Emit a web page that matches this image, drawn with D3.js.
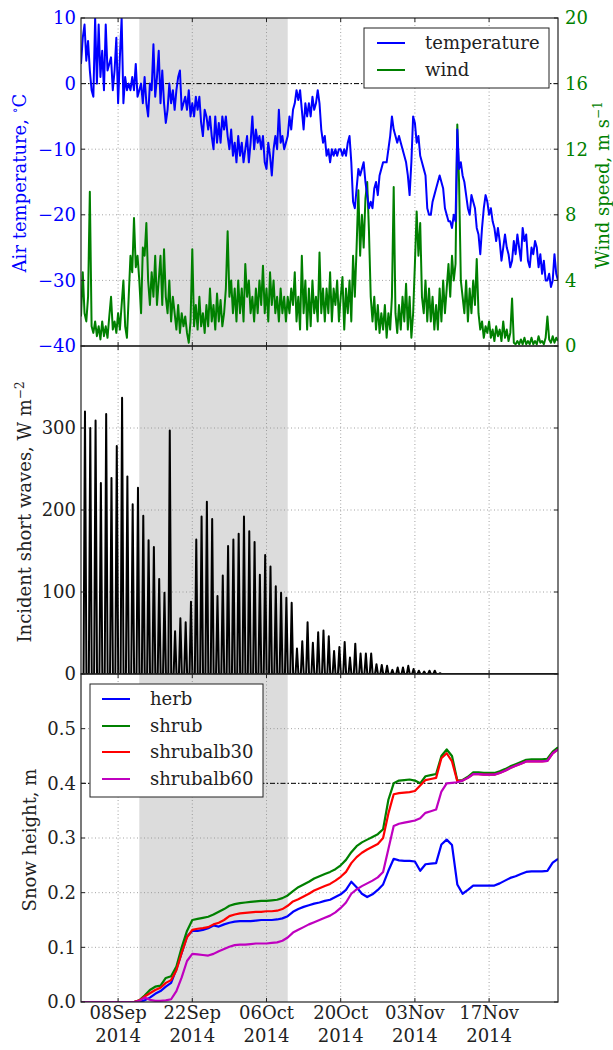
<!DOCTYPE html>
<html><head><meta charset="utf-8">
<script src="https://cdn.jsdelivr.net/npm/d3@7"></script>
<style>body{margin:0;background:#fff} svg{display:block} text{font-family:"DejaVu Serif",serif}</style>
</head><body><svg id="c" width="613" height="1050"></svg>
<script>
// ---------------- DATA ----------------
const startDate = "2014-09-01";          // series start (UTC)
const endDate = "2014-11-30";
const stepHoursMet = 8;                  // temperature / wind sampling step
const shadeRange = ["2014-09-12", "2014-10-10"];
const xTickDates = ["2014-09-08","2014-09-22","2014-10-06","2014-10-20","2014-11-03","2014-11-17"];
const tempTicks = [-40,-30,-20,-10,0,10];
const windTicks = [0,4,8,12,16,20];
const swTicks = [0,100,200,300];
const snowTicks = [0,0.1,0.2,0.3,0.4,0.5];

// Air temperature (°C), every 8 h
const temperature = [
3,7,9, 3.5,6.5,2, -1,-2,10, 0,9,1, 5,-1,9, 2,3,4, -1,2,7, -3,4,10,
-3,1,-1, 0,-1,1, -1,3,-2, -1,0,-3, 1,-3,-5, 0,-1,6, -2,1,5, -3,2,-3,
-6,-4,0, -3,-1,-4, -1,1,2, -4,-3,-2, -4,-1,-5, -3,-5,-2, -4,-2,-6, -8,-4,-5,
-7,-5,-8, -10,-5,-9, -6,-9,-5, -7,-5,-8, -10,-7,-11, -9,-12,-8, -11,-9,-12, -10,-8,-12,
-9,-5,-10, -7,-9,-8, -10,-8,-12, -13,-9,-11, -14,-10,-8, -10,-4,-9, -8,-10,-9, -8,-5,-7,
-4,-3,-1, -2.5,-1,-4, -7,-3,-5, -3,-5,-2, -4,-3,-1, -3,-7,-9, -8,-11,-10, -12,-10,-11,
-10,-11,-10, -10,-11,-10, -11,-9,-8, -12,-18,-19, -16,-13,-14, -13,-12,-15, -17,-19,-18, -19,-16,-15,
-17,-14,-13, -12,-12,-12, -10,-8,-5, -7,-8,-9, -8,-9,-10, -11,-12,-14, -17,-12,-5, -6,-9,-8,
-11,-12,-13, -14,-19,-20, -20,-18,-17, -16,-15,-14, -15,-16,-19, -20,-21,-21, -22,-20,-21, -7,-13,-12,
-14,-15,-17, -19,-20,-17, -18,-19,-22, -23,-26,-22, -19,-17,-18, -20,-19,-21, -22,-24,-22, -24,-27,-25,
-23,-25,-26, -28,-27,-24, -26,-23,-25, -27,-22,-24, -23,-27,-28, -25,-26,-24, -25,-28,-26, -29,-27,-30,
-30,-29,-31, -30,-26,-29, -30
];

// Wind speed (m/s), every 8 h
const wind = [
1.8,4.5,2, 1.5,3,9.4, 1.2,0.8,1.5, 0.6,1.2,0.4, 1.5,0.6,1.2, 0.5,1.8,3, 1,1.5,0.8, 2,1,2.5,
4,1.2,0.5, 3,5.5,4.5, 7.8,4.8,5.5, 4,2,6, 5.5,7.5,4, 2.5,4.5,3, 5.5,2.5,4, 5.5,2.5,5.9,
3,2,4, 1.5,3,2, 1,2.5,0.8, 2,1.2,1.8, 0.8,0.2,1.5, 5.9,1.2,2.5, 1,3,1.2, 2,0.8,2.5,
1.2,3.5,1.5, 2.5,1,3.2, 1.5,2.8,1.2, 2,3.5,7, 3,4,2, 3.5,1.5,4, 2,3.5,1.5, 5,3,4,
2,3,1.5, 3.5,2,4, 2.5,4.9,2, 3.5,1.5,4.5, 2.5,4,2, 3,1.5,3.5, 2,3,1.5, 3,2,3.5,
2.5,4.5,1.5, 3,1,5.5, 2,4,1, 3.5,1.2,4, 2,3,1.5, 5.7,2,3.5, 1.5,3.5,2, 4.5,1.5,3.5,
2.5,4,1.5, 3,4.2,1, 3.5,2,4, 1.5,5.5,3, 6,9.5,5.5, 8,6,9, 10,7,3, 1.5,3,1,
2.5,0.8,2, 1,2.5,0.5, 2,1,3, 9.7,2,0.8, 2.5,1,3, 1.5,3.8,1, 3,0.5,2, 5,8.2,5.5,
7.5,3,2, 4,1.5,3.5, 1.5,3,1, 2.5,1,3.5, 1.5,4,2, 3.5,5,3, 5.5,4,5, 13.5,10,4,
3,2,4, 1.5,3.5,2, 4,2.5,5.3, 2,1,1.5, 0.5,1.2,0.8, 1.5,0.5,1, 0.3,1.2,0.6, 1,0.3,1.5,
0.5,1,0.3, 0.8,2.9,0.2, 0.1,0.3,0.1, 0.4,0.1,0.5, 0.1,0.3,0.1, 0.5,0.1,0.3, 0.1,0.6,0.2, 0.3,0.1,0.5,
1.8,0.4,0.2, 0.6,0.2,0.5, 0.3
];

// Daily peak of incident short-wave radiation (W m-2), one per day from 01 Sep
const swPeak = [
320,300,309,233,317,239,278,337,241,207,227,193,163,155,116,99,297,52,68,63,
88,164,192,210,189,95,120,156,164,171,192,174,161,121,145,131,107,99,93,87,
31,40,63,38,51,53,46,28,33,39,20,37,25,25,25,12,11,10,5,8,
8,10,6,4,3,4,4,1,0,0,0,0,0,0,0,0,0,0,0,0,
0,0,0,0,0,0,0,0,0,0,0
];
const swPeakHour = 18;   // time of day of the peak (UTC)
const swHalfWidthHours = 6.5;

// Snow height (m), daily from 01 Sep to 30 Nov
const snowSeries = ["herb","shrub","shrubalb30","shrubalb60"];
const herb = [0,0,0,0,0,0,0,0,0,0,0,0,
0.003,0.008,0.015,0.02,0.028,0.035,0.06,0.09,0.12,0.13,
0.13,0.132,0.135,0.14,0.138,0.142,0.145,0.147,0.148,0.148,
0.148,0.149,0.15,0.15,0.15,0.151,0.153,0.157,0.165,0.17,
0.174,0.177,0.18,0.182,0.185,0.187,0.192,0.197,0.205,0.22,
0.21,0.198,0.192,0.197,0.205,0.215,0.24,0.262,0.259,0.258,
0.258,0.257,0.24,0.252,0.253,0.254,0.288,0.297,0.287,0.215,
0.198,0.205,0.213,0.213,0.213,0.213,0.213,0.217,0.222,0.227,
0.23,0.234,0.238,0.239,0.239,0.239,0.24,0.255,0.262];
const shrub = [0,0,0,0,0,0,0,0,0,0,0,
0.003,0.012,0.022,0.028,0.03,0.044,0.047,0.065,0.1,0.13,
0.15,0.152,0.154,0.156,0.16,0.165,0.17,0.176,0.179,0.181,
0.182,0.183,0.184,0.185,0.185,0.186,0.187,0.19,0.195,0.203,
0.21,0.215,0.22,0.226,0.23,0.234,0.238,0.243,0.25,0.26,
0.274,0.285,0.292,0.297,0.302,0.307,0.316,0.37,0.4,0.405,
0.406,0.407,0.405,0.4,0.413,0.415,0.417,0.45,0.462,0.45,
0.405,0.406,0.412,0.42,0.42,0.419,0.419,0.419,0.422,0.426,
0.431,0.435,0.439,0.443,0.444,0.444,0.444,0.445,0.458,0.466];
const shrubalb30 = [0,0,0,0,0,0,0,0,0,0,0,
0.003,0.01,0.016,0.022,0.026,0.035,0.04,0.058,0.09,0.118,
0.132,0.134,0.135,0.137,0.142,0.145,0.15,0.157,0.16,0.162,
0.163,0.164,0.165,0.165,0.166,0.166,0.167,0.17,0.176,0.184,
0.188,0.193,0.198,0.204,0.208,0.212,0.216,0.222,0.229,0.238,
0.254,0.265,0.273,0.279,0.284,0.289,0.3,0.345,0.38,0.382,
0.383,0.384,0.386,0.396,0.406,0.408,0.41,0.446,0.455,0.44,
0.404,0.405,0.41,0.417,0.417,0.416,0.416,0.416,0.419,0.423,
0.428,0.432,0.436,0.44,0.44,0.44,0.44,0.441,0.455,0.462];
const shrubalb60 = [0,0,0,0,0,0,0,0,0,0,0,
0.002,0.008,0.004,0.002,0.002,0.003,0.005,0.02,0.045,0.075,
0.088,0.087,0.086,0.085,0.088,0.093,0.097,0.101,0.104,0.105,
0.105,0.106,0.107,0.107,0.107,0.108,0.109,0.112,0.118,0.127,
0.132,0.137,0.142,0.146,0.15,0.154,0.158,0.164,0.172,0.182,
0.198,0.206,0.212,0.217,0.222,0.228,0.238,0.28,0.322,0.326,
0.328,0.33,0.332,0.336,0.346,0.349,0.352,0.385,0.4,0.401,
0.402,0.405,0.41,0.417,0.417,0.416,0.416,0.416,0.419,0.423,
0.428,0.432,0.436,0.44,0.44,0.44,0.44,0.441,0.455,0.462];
const snowValues = {herb, shrub, shrubalb30, shrubalb60};
const snowColors = {herb:"#0000ff", shrub:"#008000", shrubalb30:"#ff0000", shrubalb60:"#bf00bf"};

// ---------------- DRAWING ----------------
const svg = d3.select("#c");
const L = 81, R = 558;
const P = [{top:18, bottom:346}, {top:346, bottom:674}, {top:674, bottom:1002}];
const HOUR = 3600e3, DAY = 24*HOUR;
const t0 = Date.parse(startDate + "T00:00:00Z");
const x = d3.scaleUtc().domain([new Date(t0), new Date(Date.parse(endDate+"T00:00:00Z"))]).range([L, R]);
const yT = d3.scaleLinear().domain([-40, 10]).range([P[0].bottom, P[0].top]);
const yW = d3.scaleLinear().domain([0, 20]).range([P[0].bottom, P[0].top]);
const yS = d3.scaleLinear().domain([0, 400]).range([P[1].bottom, P[1].top]);
const yH = d3.scaleLinear().domain([0, 0.6]).range([P[2].bottom, P[2].top]);
const xt = xTickDates.map(s => new Date(Date.parse(s+"T00:00:00Z")));
const FS = 18;

const defs = svg.append("defs");
P.forEach((p,i) => defs.append("clipPath").attr("id","clip"+i)
  .append("rect").attr("x",L).attr("y",p.top).attr("width",R-L).attr("height",p.bottom-p.top));

// shading
const s0 = new Date(Date.parse(shadeRange[0]+"T00:00:00Z")), s1 = new Date(Date.parse(shadeRange[1]+"T00:00:00Z"));
P.forEach(p => svg.append("rect")
  .attr("x", x(s0)).attr("width", x(s1) - x(s0))
  .attr("y", p.top).attr("height", p.bottom - p.top).attr("fill", "#dcdcdc"));

// grids
const gridStyle = g => g.attr("stroke","#8c8c8c").attr("stroke-width",0.8).attr("stroke-dasharray","1,2.5");
P.forEach(p => {
  xt.forEach(d => gridStyle(svg.append("line").attr("x1",x(d)).attr("x2",x(d)).attr("y1",p.top).attr("y2",p.bottom)));
});
const hgrid = (vals, sc) => vals.forEach(v => {
  const yy = sc(v);
  gridStyle(svg.append("line").attr("x1",L).attr("x2",R).attr("y1",yy).attr("y2",yy));
});
hgrid(tempTicks.slice(1,-1), yT);
hgrid(swTicks.slice(1), yS);
hgrid(snowTicks.slice(1), yH);

// dash-dot reference lines
const dd = (yy) => svg.append("line").attr("x1",L).attr("x2",R).attr("y1",yy).attr("y2",yy)
  .attr("stroke","#000").attr("stroke-width",1).attr("stroke-dasharray","5,2,1.5,2");
dd(yT(0)); dd(yH(0.4));

// panel 1 lines
const metDate = i => new Date(t0 + i*stepHoursMet*HOUR);
const g0 = svg.append("g").attr("clip-path","url(#clip0)");
g0.append("path").datum(wind).attr("fill","none").attr("stroke","#008000").attr("stroke-width",2)
  .attr("stroke-linejoin","round")
  .attr("d", d3.line().x((v,i)=>x(metDate(i))).y(v=>yW(v)));
g0.append("path").datum(temperature).attr("fill","none").attr("stroke","#0000ff").attr("stroke-width",2)
  .attr("stroke-linejoin","round")
  .attr("d", d3.line().x((v,i)=>x(metDate(i))).y(v=>yT(v)));

// panel 2: diurnal short-wave spikes built from daily peaks
const swPts = [[new Date(t0), 0]];
swPeak.forEach((p, d) => {
  if (p > 0) {
    const c = t0 + d*DAY + swPeakHour*HOUR;
    swPts.push([new Date(c - swHalfWidthHours*HOUR), 0], [new Date(c), p], [new Date(c + swHalfWidthHours*HOUR), 0]);
  }
});
swPts.push([new Date(t0 + (swPeak.length-1)*DAY), 0]);
svg.append("g").attr("clip-path","url(#clip1)").append("path").datum(swPts)
  .attr("fill","none").attr("stroke","#000").attr("stroke-width",2).attr("stroke-linejoin","round")
  .attr("d", d3.line().x(d=>x(d[0])).y(d=>yS(d[1])));

// panel 3: snow heights
const g2 = svg.append("g").attr("clip-path","url(#clip2)");
snowSeries.forEach(k => {
  g2.append("path").datum(snowValues[k]).attr("fill","none").attr("stroke",snowColors[k])
    .attr("stroke-width",2.2).attr("stroke-linejoin","round")
    .attr("d", d3.line().x((v,i)=>x(new Date(t0 + i*DAY))).y(v=>yH(v)));
});

// frames and inward ticks
const TL = 4;
P.forEach(p => {
  svg.append("rect").attr("x",L).attr("y",p.top).attr("width",R-L).attr("height",p.bottom-p.top)
    .attr("fill","none").attr("stroke","#222").attr("stroke-width",1.2);
  xt.forEach(d => {
    svg.append("line").attr("x1",x(d)).attr("x2",x(d)).attr("y1",p.bottom).attr("y2",p.bottom-TL).attr("stroke","#222");
    svg.append("line").attr("x1",x(d)).attr("x2",x(d)).attr("y1",p.top).attr("y2",p.top+TL).attr("stroke","#222");
  });
});
const yTicksMarks = (vals, sc, side) => vals.forEach(v => {
  const yy = sc(v);
  const x0 = side === "l" ? L : R, x1 = side === "l" ? L+TL : R-TL;
  svg.append("line").attr("x1",x0).attr("x2",x1).attr("y1",yy).attr("y2",yy).attr("stroke","#222");
});
yTicksMarks(tempTicks, yT, "l"); yTicksMarks(windTicks, yW, "r");
yTicksMarks(swTicks, yS, "l"); yTicksMarks(swTicks, yS, "r");
yTicksMarks(snowTicks, yH, "l"); yTicksMarks(snowTicks, yH, "r");

// tick labels
const minus = s => s.replace("-", "\u2212");
const ylab = (vals, sc, fmt, side, color) => vals.forEach(v => {
  svg.append("text").attr("x", side==="l" ? L-5 : R+7).attr("y", sc(v)).attr("dy","0.36em")
    .attr("text-anchor", side==="l" ? "end" : "start").attr("font-size",FS).attr("fill",color)
    .text(minus(fmt(v)));
});
ylab(tempTicks, yT, d3.format("d"), "l", "#0000ff");
ylab(windTicks, yW, d3.format("d"), "r", "#008000");
ylab(swTicks, yS, d3.format("d"), "l", "#222");
ylab(snowTicks, yH, d3.format(".1f"), "l", "#222");
const f1 = d3.utcFormat("%d%b"), f2 = d3.utcFormat("%Y");
xt.forEach(d => {
  svg.append("text").attr("x",x(d)).attr("y",1019).attr("text-anchor","middle").attr("font-size",FS).attr("fill","#222").text(f1(d));
  svg.append("text").attr("x",x(d)).attr("y",1042).attr("text-anchor","middle").attr("font-size",FS).attr("fill","#222").text(f2(d));
});

// axis titles
function vlabel(cx, cy, color, main, sup, tail) {
  const t = svg.append("text").attr("transform",`translate(${cx},${cy}) rotate(-90)`)
    .attr("text-anchor","middle").attr("dy","0.35em").attr("font-size",FS).attr("fill",color);
  t.append("tspan").text(main);
  if (sup) t.append("tspan").attr("font-size",12).attr("dy",-7).text(sup);
  if (tail) t.append("tspan").attr("dy", sup ? 7 : 0).text(tail);
}
vlabel(20, 183, "#0000ff", "Air temperature, ", "\u2218", "C");
vlabel(603, 185, "#008000", "Wind speed, m s", "\u22121");
vlabel(25, 512, "#222", "Incident short waves, W m", "\u22122");
vlabel(30, 840, "#222", "Snow height, m");

// legends
function legend(bx, by, bw, bh, items, lx0, lx1, tx, ys) {
  svg.append("rect").attr("x",bx).attr("y",by).attr("width",bw).attr("height",bh)
    .attr("fill","#fff").attr("stroke","#222").attr("stroke-width",1);
  items.forEach((it, i) => {
    svg.append("line").attr("x1",lx0).attr("x2",lx1).attr("y1",ys[i]).attr("y2",ys[i])
      .attr("stroke",it.c).attr("stroke-width",2);
    svg.append("text").attr("x",tx).attr("y",ys[i]).attr("dy","0.33em").attr("font-size",FS).attr("fill","#222").text(it.n);
  });
}
legend(364, 28, 185, 60, [{n:"temperature",c:"#0000ff"},{n:"wind",c:"#008000"}], 377, 405, 425, [43, 70]);
legend(90, 684, 173, 113, snowSeries.map(k=>({n:k, c:snowColors[k]})), 102, 130, 150, [699, 726, 752, 779]);
</script></body></html>
